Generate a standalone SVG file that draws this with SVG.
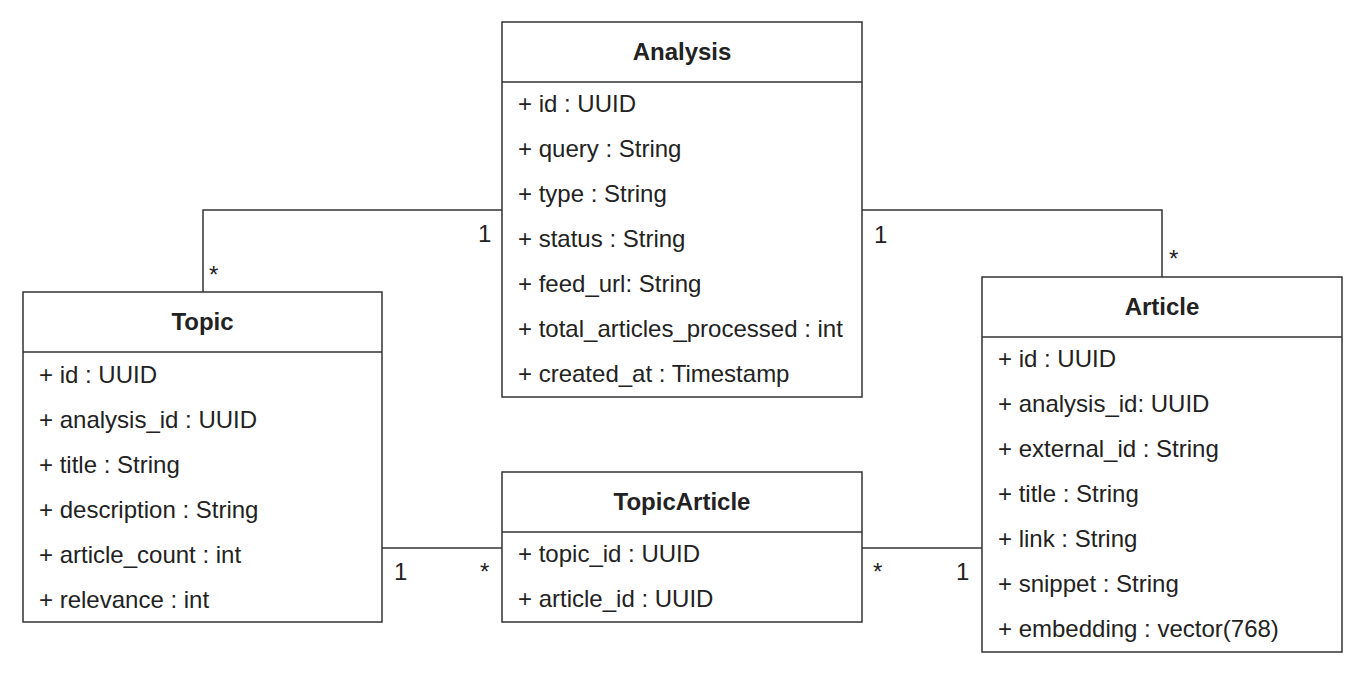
<svg xmlns="http://www.w3.org/2000/svg" width="1365" height="675" viewBox="0 0 1365 675">
<style>
.box{fill:#fff;stroke:#333;stroke-width:1.5}
.sep{stroke:#333;stroke-width:1.5}
.t{font-family:"Liberation Sans",Arial,sans-serif;font-size:24px;fill:#222}
.h{font-family:"Liberation Sans",Arial,sans-serif;font-size:24px;font-weight:bold;fill:#222;text-anchor:middle}
.c{fill:none;stroke:#333;stroke-width:1.5}
</style>
<rect width="1365" height="675" fill="#fff"/>
<g id="connectors">
<path class="c" d="M502,210 H203 V292"/>
<path class="c" d="M862,210 H1162 V277"/>
<path class="c" d="M382,548 H502"/>
<path class="c" d="M862,548 H982"/>
<text class="t" x="478" y="242">1</text>
<text class="t" x="209" y="283">*</text>
<text class="t" x="874" y="243">1</text>
<text class="t" x="1169" y="267">*</text>
<text class="t" x="394" y="580">1</text>
<text class="t" x="480" y="580">*</text>
<text class="t" x="873" y="580">*</text>
<text class="t" x="956" y="580">1</text>
</g>
<g id="Analysis">
<rect class="box" x="502" y="22" width="360" height="375"/>
<line class="sep" x1="502" y1="82" x2="862" y2="82"/>
<text class="h" x="682" y="60">Analysis</text>
<text class="t" x="518" y="112">+ id : UUID</text>
<text class="t" x="518" y="157">+ query : String</text>
<text class="t" x="518" y="202">+ type : String</text>
<text class="t" x="518" y="247">+ status : String</text>
<text class="t" x="518" y="292">+ feed_url: String</text>
<text class="t" x="518" y="337">+ total_articles_processed : int</text>
<text class="t" x="518" y="382">+ created_at : Timestamp</text>
</g>
<g id="Topic">
<rect class="box" x="23" y="292" width="359" height="330"/>
<line class="sep" x1="23" y1="352" x2="382" y2="352"/>
<text class="h" x="202.5" y="330">Topic</text>
<text class="t" x="39" y="383">+ id : UUID</text>
<text class="t" x="39" y="428">+ analysis_id : UUID</text>
<text class="t" x="39" y="473">+ title : String</text>
<text class="t" x="39" y="518">+ description : String</text>
<text class="t" x="39" y="563">+ article_count : int</text>
<text class="t" x="39" y="608">+ relevance : int</text>
</g>
<g id="TopicArticle">
<rect class="box" x="502" y="472" width="360" height="150"/>
<line class="sep" x1="502" y1="532" x2="862" y2="532"/>
<text class="h" x="682" y="510">TopicArticle</text>
<text class="t" x="518" y="562">+ topic_id : UUID</text>
<text class="t" x="518" y="607">+ article_id : UUID</text>
</g>
<g id="Article">
<rect class="box" x="982" y="277" width="360" height="375"/>
<line class="sep" x1="982" y1="337" x2="1342" y2="337"/>
<text class="h" x="1162" y="315">Article</text>
<text class="t" x="998" y="367">+ id : UUID</text>
<text class="t" x="998" y="412">+ analysis_id: UUID</text>
<text class="t" x="998" y="457">+ external_id : String</text>
<text class="t" x="998" y="502">+ title : String</text>
<text class="t" x="998" y="547">+ link : String</text>
<text class="t" x="998" y="592">+ snippet : String</text>
<text class="t" x="998" y="637">+ embedding : vector(768)</text>
</g>
</svg>
